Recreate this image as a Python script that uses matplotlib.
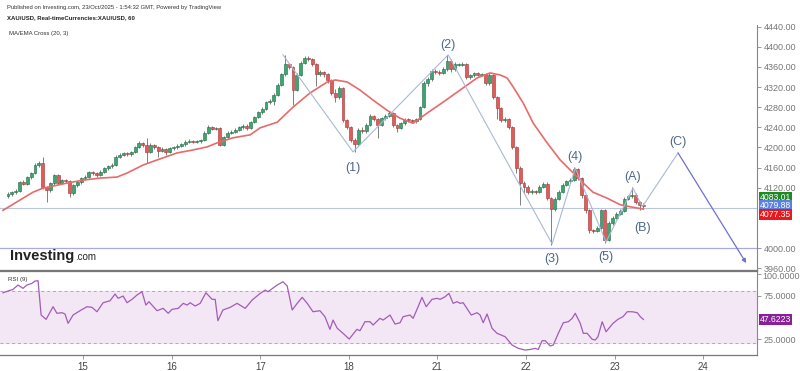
import matplotlib
matplotlib.use("Agg")
import matplotlib.pyplot as plt
from matplotlib.transforms import Bbox, TransformedBbox
import numpy as np

plt.rcParams["font.family"] = ["Liberation Sans", "DejaVu Sans"]

# ---------------- data ----------------
first_open = 4104
closes = [
    4108, 4111, 4113, 4131, 4128, 4141, 4149, 4165, 4169, 4121,
    4115, 4129, 4145, 4129, 4135, 4133, 4110, 4125, 4131, 4139,
    4142, 4151, 4149, 4145, 4152, 4159, 4163, 4166, 4181, 4185,
    4188, 4186, 4190, 4200, 4208, 4205, 4191, 4205, 4200, 4193,
    4197, 4191, 4198, 4200, 4203, 4206, 4211, 4213, 4211, 4212,
    4214, 4229, 4240, 4237, 4238, 4205, 4220, 4229, 4231, 4235,
    4240, 4243, 4238, 4250, 4260, 4270, 4276, 4290, 4292, 4305,
    4325, 4345, 4365, 4360, 4314, 4344, 4368, 4378, 4376, 4366,
    4345, 4349, 4345, 4333, 4308, 4300, 4318, 4254, 4240, 4215,
    4206, 4235, 4232, 4245, 4262, 4256, 4245, 4258, 4263, 4268,
    4245, 4239, 4248, 4255, 4254, 4252, 4256, 4280, 4328, 4335,
    4352, 4350, 4348, 4355, 4372, 4355, 4365, 4365, 4366, 4340,
    4343, 4347, 4344, 4345, 4328, 4344, 4300, 4278, 4254, 4256,
    4240, 4200, 4160, 4130, 4122, 4112, 4113, 4112, 4122, 4128,
    4100, 4078, 4098, 4112, 4126, 4133, 4136, 4158, 4140, 4105,
    4075, 4035, 4034, 4040, 4075, 4016, 4050, 4060, 4068, 4074,
    4098, 4103, 4106, 4092, 4086, 4083]
highs = [
    4112, 4114, 4117, 4134, 4135, 4144, 4152, 4168, 4173, 4181,
    4124, 4132, 4148, 4147, 4138, 4137, 4135, 4128, 4134, 4142,
    4146, 4154, 4153, 4151, 4155, 4162, 4166, 4169, 4184, 4189,
    4191, 4191, 4193, 4203, 4213, 4211, 4219, 4208, 4207, 4202,
    4200, 4199, 4201, 4203, 4206, 4209, 4214, 4216, 4215, 4215,
    4217, 4232, 4244, 4243, 4241, 4240, 4223, 4232, 4234, 4238,
    4243, 4246, 4246, 4253, 4263, 4273, 4280, 4293, 4296, 4308,
    4328, 4348, 4384, 4368, 4362, 4347, 4371, 4382, 4381, 4378,
    4368, 4353, 4352, 4347, 4336, 4316, 4322, 4320, 4257, 4243,
    4218, 4238, 4240, 4248, 4266, 4264, 4258, 4261, 4266, 4272,
    4270, 4247, 4251, 4258, 4258, 4257, 4259, 4283, 4331, 4339,
    4356, 4355, 4353, 4359, 4384, 4376, 4369, 4368, 4370, 4368,
    4346, 4350, 4350, 4348, 4348, 4347, 4346, 4302, 4280, 4260,
    4259, 4243, 4203, 4163, 4133, 4125, 4117, 4116, 4126, 4132,
    4131, 4102, 4101, 4115, 4129, 4136, 4139, 4162, 4160, 4142,
    4108, 4078, 4038, 4043, 4078, 4077, 4053, 4064, 4071, 4077,
    4101, 4106, 4121, 4109, 4094, 4089]
lows = [
    4099, 4104, 4108, 4111, 4125, 4126, 4138, 4147, 4162, 4117,
    4091, 4112, 4126, 4126, 4127, 4130, 4101, 4106, 4122, 4128,
    4136, 4140, 4145, 4142, 4143, 4150, 4156, 4160, 4164, 4178,
    4182, 4183, 4183, 4188, 4198, 4201, 4169, 4189, 4197, 4181,
    4190, 4185, 4189, 4195, 4197, 4200, 4203, 4208, 4208, 4208,
    4209, 4212, 4227, 4234, 4234, 4202, 4203, 4218, 4226, 4228,
    4232, 4237, 4235, 4236, 4248, 4258, 4267, 4274, 4286, 4285,
    4302, 4322, 4342, 4355, 4284, 4312, 4342, 4366, 4372, 4362,
    4322, 4341, 4340, 4329, 4304, 4290, 4296, 4250, 4236, 4210,
    4191, 4204, 4228, 4229, 4243, 4252, 4218, 4242, 4255, 4260,
    4241, 4230, 4236, 4245, 4250, 4248, 4249, 4254, 4278, 4322,
    4332, 4346, 4344, 4345, 4352, 4350, 4352, 4361, 4362, 4336,
    4336, 4340, 4341, 4341, 4324, 4325, 4296, 4256, 4250, 4250,
    4236, 4196, 4150, 4085, 4110, 4108, 4108, 4108, 4110, 4119,
    4096, 4005, 4074, 4095, 4110, 4123, 4130, 4134, 4136, 4100,
    4070, 4030, 4030, 4031, 4038, 4010, 4013, 4046, 4057, 4065,
    4072, 4095, 4100, 4088, 4076, 4079]

# moving average
ma_bar = [-1.3, 6.5, 9.1, 15.3, 19.5, 23.9, 28.3, 30.9, 35.1, 38.7, 43.9, 48.1,
          51.7, 54.3, 58.4, 62.9, 65.5, 69.9, 74.0, 78.4, 82.9, 85.0, 88.1, 91.4,
          94.8, 98.4, 101.8, 105.2, 108.8, 113.0, 117.4, 121.8, 125.2, 127.8,
          129.6, 131.2, 133.8, 136.4, 140.0, 143.4, 146.8, 149.4, 151.9, 155.6,
          159.0, 161.6, 165.0]
ma_val = [4075, 4111, 4119, 4129, 4135, 4139, 4141, 4149, 4165, 4175, 4189, 4195,
          4201, 4209, 4219, 4225, 4239, 4250, 4280, 4308, 4330, 4334, 4330, 4314,
          4294, 4274, 4258, 4248, 4268, 4290, 4314, 4338, 4348, 4344,
          4338, 4320, 4288, 4248, 4209, 4175, 4149, 4129, 4111, 4099,
          4086, 4082, 4077.35]

# RSI (9)
rsi_bar = [-1.3, 1.3, 2.6, 3.9, 4.9, 6.2, 7.0, 7.8, 8.6, 9.9, 11.7, 12.7, 14.0, 14.8,
           15.6, 16.9, 18.7, 20.5, 21.8, 23.1, 24.7, 26.5, 27.8, 28.6, 29.9, 30.9,
           32.2, 33.5, 34.8, 35.8, 36.6, 38.7, 40.3, 41.6, 42.6, 44.2, 45.5, 46.5,
           47.3, 48.6, 49.9, 51.4, 53.0, 53.8, 54.5, 55.8, 57.7, 59.5, 61.6, 63.4,
           65.5, 66.8, 67.5, 69.9, 71.4, 72.5, 73.8, 75.1, 76.4, 77.7, 79.2, 81.0,
           82.3, 83.6, 84.4, 85.5, 87.0, 88.6, 90.6, 91.4, 92.7, 94.0, 94.8, 96.6,
           97.4, 99.2, 100.5, 101.8, 102.6, 104.4, 105.2, 106.5, 107.5, 108.6,
           110.1, 111.4, 112.2, 113.5, 114.5, 115.6, 116.6, 117.4, 118.2, 120.3,
           121.8, 122.6, 123.4, 124.4, 125.7, 127.0, 129.1, 130.9, 132.5, 134.3,
           135.6, 136.9, 137.7, 138.7, 139.5, 140.8, 141.6, 142.9, 144.2, 145.5,
           146.5, 147.3, 148.6, 149.4, 150.4, 151.7, 152.5, 153.2, 154.3, 155.3,
           157.1, 158.4, 159.7, 160.8, 162.1, 163.4, 164.2, 165.0]
rsi_val = [78.4, 82.3, 87.3, 83.5, 87.3, 89.2, 91.9, 92.3, 52.7, 47.7, 62.3, 54.7, 55.4, 53.9,
           43.1, 52.7, 57.7, 62.3, 61.6, 56.5, 66.9, 69.2, 76.9, 72.0, 74.6, 66.9,
           70.8, 75.8, 79.6, 64.2, 68.1, 57.7, 60.4, 54.7, 59.3, 60.4, 66.2, 64.2,
           66.9, 63.1, 66.2, 78.4, 70.8, 70.8, 46.1, 58.5, 61.6, 66.2, 60.4, 70.0,
           77.7, 81.5, 79.6, 87.3, 91.1, 86.2, 58.5, 66.2, 73.1, 66.2, 56.5, 57.7,
           50.8, 36.2, 46.9, 37.4, 31.6, 25.0, 36.2, 34.6, 45.0, 45.0, 41.2, 48.9,
           46.9, 52.7, 42.3, 43.8, 50.8, 52.7, 48.9, 62.3, 73.1, 62.3,
           70.8, 72.0, 70.8, 73.8, 77.7, 66.2, 68.1, 66.2, 66.9, 52.7,
           55.4, 52.7, 43.8, 53.9, 37.4, 31.6, 27.7, 18.1, 14.3, 12.3,
           13.0, 14.3, 13.0, 23.1, 23.1, 17.0, 18.1, 31.6, 43.8, 45.0,
           48.9, 54.7, 43.1, 31.6, 31.6, 24.7, 23.9, 27.7, 45.0, 33.4,
           43.1, 47.8, 50.8, 56.5, 56.5, 55.4, 50.8, 47.6223]

# Elliott wave count
wave_bar = [71.4, 89.6, 114.3, 141.3, 147.3, 155.3, 162.3, 164.7, 174.0, 191.7]
wave_price = [4384, 4191, 4384, 4008, 4159, 4012, 4119, 4082, 4189, 3970]
wave_labels = ["", "(1)", "(2)", "(3)", "(4)", "(5)", "(A)", "(B)", "(C)", ""]
wave_label_dy = [0, -16, 10, -15, 11, -15, 11, -21, 11, 0]   # pixels, + is up

day_labels = ["15", "16", "17", "18", "21", "22", "23", "24"]
bars_per_day = 23
first_day_bar = 19.5

last_price = 4083.01
ema_price = 4079.88
ma_price = 4077.35
support_level = 4000
rsi_last = 47.6223

price_ticks = [3960, 4000, 4120, 4160, 4200, 4240, 4280, 4320, 4360, 4400, 4440]

# ---------------- figure ----------------
W, H = 800, 371
fig = plt.figure(figsize=(W / 100, H / 100), dpi=100)
fig.patch.set_facecolor("white")

def fx(px):
    return px / W

def fy(py):
    return 1 - py / H

x_lo, x_hi = -2.08, 194.5
ax = fig.add_axes([0, fy(270), fx(757), (270 - 25) / H])
ax2 = fig.add_axes([0, fy(355), fx(757), (355 - 271) / H], sharex=ax)

ax.set_xlim(x_lo, x_hi)
ax.set_ylim(3956.3, 4443.3)
ax2.set_ylim(6.6, 103.5)

for a in (ax, ax2):
    a.set_facecolor("white")
    a.spines["top"].set_visible(False)
    a.spines["left"].set_visible(False)
    a.spines["right"].set_color("#888888")
    a.spines["bottom"].set_color("#777777")
    a.spines["right"].set_linewidth(0.8)
    a.spines["bottom"].set_linewidth(0.9)
    a.yaxis.tick_right()
    a.tick_params(axis="y", direction="out", length=3, width=0.6, colors="#888888",
                  labelsize=6.5, labelcolor="#777777", pad=2)
ax2.spines["top"].set_visible(True)
ax2.spines["top"].set_color("#777777")
ax2.spines["top"].set_linewidth(0.9)

# horizontal levels
ax.axhline(ema_price, color="#b9c6de", lw=0.8, zorder=1)
ax.axhline(support_level, color="#a9a9e6", lw=0.9, zorder=1)

# candles
opens = [first_open] + closes[:-1]
xs = np.arange(len(closes))
for i in xs:
    o, c, h, l = opens[i], closes[i], highs[i], lows[i]
    up = c >= o
    body_c = "#3da56f" if up else "#e15b5b"
    edge_c = "#1f6b43" if up else "#a33030"
    ax.vlines(i, l, h, color="#6a6a6a", lw=0.6, zorder=2)
    bh = abs(c - o)
    bot = min(o, c)
    if bh < 2:
        bot -= (2 - bh) / 2
        bh = 2
    ax.bar(i, bh, bottom=bot, width=0.75, color=body_c, edgecolor=edge_c,
           linewidth=0.4, zorder=3)

# MA line
ax.plot(ma_bar, ma_val, color="#e86a6a", lw=1.2, zorder=4)

# wave lines
ax.plot(wave_bar[:-1], wave_price[:-1], color="#a9b9d3", lw=0.8, zorder=5)
ax.annotate("", xy=(wave_bar[-1], wave_price[-1]), xytext=(wave_bar[-2], wave_price[-2]),
            arrowprops=dict(arrowstyle="-|>", color="#6f6fd6", lw=0.9,
                            mutation_scale=6, shrinkA=0, shrinkB=0), zorder=5)
for bx, bp, lab, dy in zip(wave_bar, wave_price, wave_labels, wave_label_dy):
    if lab:
        ax.annotate(lab, xy=(bx, bp), xytext=(0, dy * 0.72), textcoords="offset points",
                    ha="center", va="center", fontsize=9, color="#4f6788", zorder=6)

# y ticks (main)
ax.set_yticks(price_ticks)
ax.set_yticklabels([f"{p:.2f}" for p in price_ticks])
ax.tick_params(axis="x", bottom=False, labelbottom=False)

# RSI panel
ax2.axhspan(20, 80, color="#f3e6f5", zorder=0)
ax2.axhline(80, color="#b0a8b4", lw=0.7, ls=(0, (3, 3)), zorder=1)
ax2.axhline(20, color="#b0a8b4", lw=0.7, ls=(0, (3, 3)), zorder=1)
ax2.plot(rsi_bar, rsi_val, color="#a25db5", lw=0.9, zorder=3)
ax2.set_yticks([25, 75, 100])
ax2.set_yticklabels(["25.0000", "75.0000", ""])

day_pos = [first_day_bar + bars_per_day * k for k in range(len(day_labels))]
ax2.set_xticks(day_pos)
ax2.set_xticklabels(day_labels)
ax2.tick_params(axis="x", direction="out", length=3, width=0.6, colors="#888888",
                labelsize=7, labelcolor="#444444", pad=2)

# "100.0000" partly hidden under the panel divider, as in the reference
t100 = fig.text(fx(762), fy(276.5), "100.0000", fontsize=6.5, color="#777777",
                ha="left", va="center")
clip = TransformedBbox(Bbox([[fx(757), fy(371)], [fx(800), fy(272)]]), fig.transFigure)
t100.set_clip_box(clip)
t100.set_clip_on(True)

# price labels on axis
def axis_box(py_center, text, bg):
    fig.text(fx(760), fy(py_center), text, fontsize=6.2, color="white", ha="left",
             va="center", bbox=dict(boxstyle="square,pad=0.14", fc=bg, ec="none"))

axis_box(197.5, f"{last_price:.2f}", "#1e8a24")
axis_box(206, f"{ema_price:.2f}", "#5b80e0")
axis_box(214.5, f"{ma_price:.2f}", "#e8191e")
axis_box(319.5, f"{rsi_last:.4f}", "#8a1f9a")

# header texts
fig.text(fx(7), fy(7), "Published on Investing.com, 23/Oct/2025 - 1:54:32 GMT, Powered by TradingView",
         fontsize=4.2, color="#333333", va="center", ha="left")
fig.text(fx(7), fy(17.5), "XAU/USD, Real-timeCurrencies:XAU/USD, 60",
         fontsize=4.3, color="#222222", va="center", ha="left", fontweight="bold")
fig.text(fx(9), fy(33), "MA/EMA Cross (20, 3)", fontsize=4.3, color="#333333",
         va="center", ha="left")
fig.text(fx(8), fy(279), "RSI (9)", fontsize=4.4, color="#333333", va="center", ha="left")

# logo
logo = fig.text(fx(10), fy(256), "Investing", fontsize=10.5, fontweight="bold",
                color="#222222", va="center", ha="left")
fig.canvas.draw()
bb = logo.get_window_extent(renderer=fig.canvas.get_renderer())
fig.text(bb.x1 / W + 0.001, fy(257.5), ".com", fontsize=7, color="#222222",
         va="center", ha="left")

fig.savefig("out.png", dpi=100, facecolor="white")
